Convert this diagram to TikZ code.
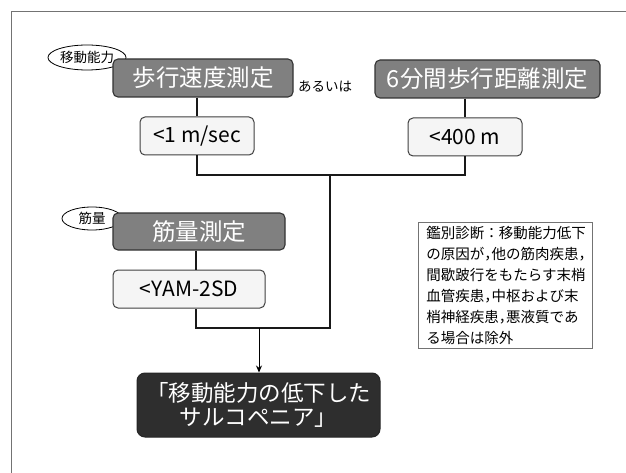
\documentclass[tikz,border=0pt]{standalone}
\usepackage{fontspec}
\setmainfont{Noto Sans CJK JP}
\usetikzlibrary{shapes.geometric,arrows.meta}
\newcommand{\hcomma}{\makebox[0.5em][l]{，}}
\begin{document}
\begin{tikzpicture}[x=1pt,y=-1pt,
  graybox/.style={draw=black!80, line width=1.1pt, fill=black!50, text=white, rounded corners=5pt, minimum height=38pt, inner sep=0pt, font=\fontsize{23.5}{26}\selectfont},
  valbox/.style={draw=black!75, line width=1pt, fill=black!4, rounded corners=5pt, minimum height=38pt, inner sep=0pt, font=\fontsize{21}{24}\selectfont},
  tagoval/.style={ellipse, draw, line width=0.8pt, fill=white, inner sep=0pt, font=\fontsize{13.5}{15}\selectfont},
  conn/.style={line width=1.8pt, draw=black!90},
  framel/.style={line width=0.8pt, draw=black!55},
  finalbox/.style={draw=black!85, line width=1pt, fill=black!82, text=white, rounded corners=8pt, inner sep=0pt, minimum width=243pt, minimum height=64pt, align=center, font=\fontsize{22.5}{24}\selectfont},
  diagbox/.style={draw=black!55, line width=0.8pt, text width=158pt, inner xsep=8pt, inner ysep=4pt, align=left, font=\fontsize{14.5}{21}\selectfont}
]
\useasboundingbox (0,0) rectangle (626,473);
\fill[white] (0,0) rectangle (626,473);
% frame
\coordinate (fc) at (11,11);
\coordinate (fr) at (626,11);
\coordinate (fb) at (11,473);
\draw[framel] (fb) -- (fc) -- (fr);

% tags
\node[tagoval, minimum width=78pt, minimum height=25pt] (tagA) at (87,57.5) {移動能力};
\node[tagoval, minimum width=60pt, minimum height=23pt] (tagM) at (92,218.5) {筋量};

% top row
\node[graybox, minimum width=180pt] (walk) at (203,78) {歩行速度測定};
\node[font=\fontsize{13.5}{15}\selectfont, inner sep=0pt] (or) at (325,86) {あるいは};
\node[graybox, minimum width=225pt] (six) at (487.5,79) {6分間歩行距離測定};

\node[valbox, minimum width=114pt] (v1) at (197,136) {<1 m/sec};
\node[valbox, minimum width=114pt] (v2) at (465,137) {<400 m};

% muscle
\node[graybox, minimum width=172pt, minimum height=37pt] (mus) at (199,231.5) {筋量測定};
\node[valbox, minimum width=152pt] (yam) at (189,289) {<YAM-2SD};

% final
\node[finalbox] (final) at (258.5,405) {「移動能力の低下した\\サルコペニア」};

% diagnosis
\node[diagbox, anchor=north west] (diag) at (418,222) {鑑別診断：移動能力低下\\の原因が\hcomma 他の筋肉疾患\hcomma\\間歇跛行をもたらす末梢\\血管疾患\hcomma 中枢および末\\梢神経疾患\hcomma 悪液質であ\\る場合は除外};

% connectors
\coordinate (j1) at (330,175);
\coordinate (j2) at (330,328);
\coordinate (mx) at (196,0);
\coordinate (ax) at (259,328);
\draw[conn] (walk.south -| v1) -- (v1.north);
\draw[conn] (six.south -| v2) -- (v2.north);
\draw[conn] (v1.south) -- (v1.south |- j1) -- (v2.south |- j1) -- (v2.south);
\draw[conn] (j1) -- (j2) -- (j2 -| mx) -- (yam.south -| mx);
\draw[conn] (mus.south -| mx) -- (yam.north -| mx);
\draw[line width=1pt, -{Stealth[length=7pt,width=6pt]}] (ax) -- (ax |- final.north);
\end{tikzpicture}
\end{document}
